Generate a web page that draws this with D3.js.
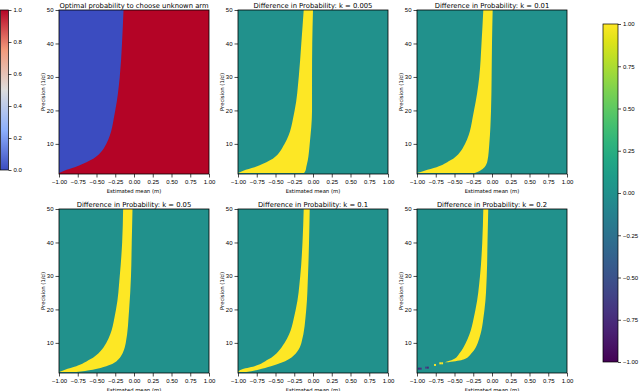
<!DOCTYPE html>
<html>
<head>
<meta charset="utf-8">
<script src="https://cdn.jsdelivr.net/npm/d3@7"></script>
<style>
  body { margin: 0; background: #fff; }
  svg { font-family: "DejaVu Sans", sans-serif; }
  .tick text { font-size: 6px; fill: #000; }
  .tick line { stroke: #000; stroke-width: 0.7; }
  .domain { stroke: none; }
</style>
</head>
<body>
<div id="chart"></div>
<script>
var precisionPts = [1.3, 2, 3, 5, 10, 20, 30, 40, 50];

// optimal policy: switch point in estimated mean (blue left of it, red right)
var optimalEdge = [-1.0, -0.93, -0.79, -0.59, -0.37, -0.25, -0.19, -0.16, -0.14];

// difference panels: yellow band between left and right edge
var kLabels = ["0.005", "0.01", "0.05", "0.1", "0.2"];
var bandLeft = [
  [-1.0, -0.93, -0.78, -0.58, -0.38, -0.245, -0.19, -0.156, -0.124],
  [-1.0, -0.90, -0.74, -0.56, -0.36, -0.24, -0.17, -0.14, -0.116],
  [-1.0, -0.92, -0.77, -0.59, -0.37, -0.24, -0.19, -0.158, -0.145],
  [-1.0, -0.96, -0.78, -0.60, -0.38, -0.23, -0.17, -0.14, -0.124]
];
var bandRight = [
  [-0.12, -0.10, -0.09, -0.07, -0.044, -0.013, -0.013, -0.01, 0.0],
  [-0.23, -0.16, -0.10, -0.06, -0.036, -0.013, -0.005, 0.0, 0.009],
  [-0.77, -0.55, -0.37, -0.21, -0.11, -0.065, -0.04, -0.03, -0.02],
  [-0.89, -0.73, -0.56, -0.33, -0.155, -0.09, -0.067, -0.053, -0.044]
];
// k = 0.2 band starts higher up
var precisionK02 = [4.2, 5, 7, 10, 20, 30, 40, 50];
var leftK02 = [-0.63, -0.52, -0.43, -0.35, -0.22, -0.16, -0.13, -0.116];
var rightK02 = [-0.58, -0.38, -0.27, -0.19, -0.10, -0.07, -0.06, -0.05];
// stray cells in k = 0.2 panel: [mean, precision, value]
var strayCells = [[-0.975, 2.3, -0.8], [-0.95, 2.3, -0.7], [-0.88, 2.6, -0.6], [-0.855, 2.6, -0.75],
                  [-0.76, 3.4, 1.0], [-0.69, 3.9, 1.0], [-0.665, 3.9, 1.0]];

var xTicks = [-1, -0.75, -0.5, -0.25, 0, 0.25, 0.5, 0.75, 1];
var yTicks = [10, 20, 30, 40, 50];
var leftBarTicks = [0, 0.2, 0.4, 0.6, 0.8, 1.0];
var rightBarTicks = [-1, -0.75, -0.5, -0.25, 0, 0.25, 0.5, 0.75, 1];

var W = 640, H = 391;
var colX = [59, 238, 417], rowY = [10, 209], pw = 150, ph = 164;

var coolwarm = d3.scaleLinear()
  .domain([0, 0.25, 0.5, 0.75, 1])
  .range(["#3b4cc0", "#8db0fe", "#dddddd", "#f49a7b", "#b40426"]);
var viridis = d3.scaleSequential(d3.interpolateViridis).domain([-1, 1]);

var svg = d3.select("#chart").append("svg")
  .attr("width", W).attr("height", H);

function drawPanel(col, row, title, fillFn) {
  var x0 = colX[col], y0 = rowY[row];
  var x = d3.scaleLinear().domain([-1, 1]).range([x0, x0 + pw]);
  var y = d3.scaleLinear().domain([1, 50]).range([y0 + ph, y0]);
  var g = svg.append("g");
  var clipId = "clip" + col + row;
  g.append("clipPath").attr("id", clipId).append("rect")
    .attr("x", x0).attr("y", y0).attr("width", pw).attr("height", ph);
  var body = g.append("g").attr("clip-path", "url(#" + clipId + ")");
  fillFn(body, x, y);

  g.append("rect").attr("x", x0).attr("y", y0).attr("width", pw).attr("height", ph)
    .attr("fill", "none").attr("stroke", "#000").attr("stroke-width", 0.8);

  g.append("g").attr("transform", "translate(0," + (y0 + ph) + ")")
    .call(d3.axisBottom(x).tickValues(xTicks).tickFormat(d3.format(".2f")).tickSizeOuter(0).tickSize(3.5).tickPadding(2));
  g.append("g").attr("transform", "translate(" + x0 + ",0)")
    .call(d3.axisLeft(y).tickValues(yTicks).tickSizeOuter(0).tickSize(3.5).tickPadding(2));

  g.append("text").attr("x", x0 + pw / 2).attr("y", y0 - 2.5)
    .attr("text-anchor", "middle").attr("font-size", 6.8).text(title);
  g.append("text").attr("x", x0 + pw / 2).attr("y", y0 + ph + 18.5)
    .attr("text-anchor", "middle").attr("font-size", 5.3).text("Estimated mean (m)");
  g.append("text")
    .attr("transform", "translate(" + (x0 - 14) + "," + (y0 + ph / 2) + ") rotate(-90)")
    .attr("text-anchor", "middle").attr("font-size", 5.3).text("Precision (1/d)");
}

function band(ps, lefts, rights, x, y) {
  return d3.area()
    .curve(d3.curveMonotoneY)
    .y(function(d, i) { return y(ps[i]); })
    .x0(function(d, i) { return x(lefts[i]); })
    .x1(function(d, i) { return x(rights[i]); })(ps);
}

// panel 1: optimal probability
drawPanel(0, 0, "Optimal probability to choose unknown arm", function(body, x, y) {
  body.append("rect").attr("x", x(-1)).attr("y", y(50)).attr("width", x(1) - x(-1))
    .attr("height", y(1) - y(50)).attr("fill", coolwarm(1));
  var lefts = precisionPts.map(function() { return -1.05; });
  body.append("path").attr("d", band(precisionPts, lefts, optimalEdge, x, y))
    .attr("fill", coolwarm(0));
});

// difference panels
var spots = [[1, 0], [2, 0], [0, 1], [1, 1], [2, 1]];
spots.forEach(function(s, k) {
  drawPanel(s[0], s[1], "Difference in Probability: k = " + kLabels[k], function(body, x, y) {
    body.append("rect").attr("x", x(-1)).attr("y", y(50)).attr("width", x(1) - x(-1))
      .attr("height", y(1) - y(50)).attr("fill", viridis(0));
    if (k < 4) {
      body.append("path").attr("d", band(precisionPts, bandLeft[k], bandRight[k], x, y))
        .attr("fill", viridis(1));
    } else {
      body.append("path").attr("d", band(precisionK02, leftK02, rightK02, x, y))
        .attr("fill", viridis(1));
      body.selectAll("rect.stray").data(strayCells).enter().append("rect")
        .attr("class", "stray")
        .attr("x", function(d) { return x(d[0] - 0.0125); })
        .attr("y", function(d) { return y(d[1] + 0.3); })
        .attr("width", x(0.025) - x(0))
        .attr("height", y(1) - y(1.6))
        .attr("fill", function(d) { return viridis(d[2]); });
    }
  });
});

// colorbars
function colorbar(x0, y0, w, h, domain, colorFn, ticks, fmt, id) {
  var grad = svg.append("defs").append("linearGradient").attr("id", id)
    .attr("x1", 0).attr("y1", 1).attr("x2", 0).attr("y2", 0);
  d3.range(0, 1.0001, 0.05).forEach(function(t) {
    grad.append("stop").attr("offset", t)
      .attr("stop-color", colorFn(domain[0] + t * (domain[1] - domain[0])));
  });
  svg.append("rect").attr("x", x0).attr("y", y0).attr("width", w).attr("height", h)
    .attr("fill", "url(#" + id + ")").attr("stroke", "#000").attr("stroke-width", 0.7);
  var s = d3.scaleLinear().domain(domain).range([y0 + h, y0]);
  svg.append("g").attr("transform", "translate(" + (x0 + w) + ",0)")
    .call(d3.axisRight(s).tickValues(ticks).tickFormat(d3.format(fmt)).tickSize(3).tickPadding(2).tickSizeOuter(0));
}
colorbar(0.5, 10, 8, 160, [0, 1], coolwarm, leftBarTicks, ".1f", "cwGrad");
colorbar(603, 24, 15, 338, [-1, 1], viridis, rightBarTicks, ".2f", "vGrad");
</script>
</body>
</html>
